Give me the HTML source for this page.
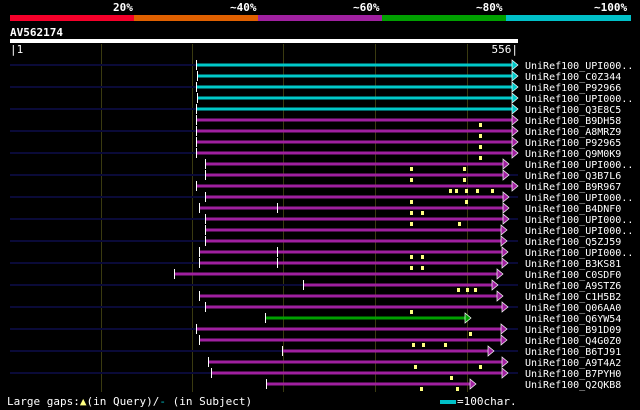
<!DOCTYPE html><html><head><style>body{margin:0;background:#000}svg{display:block}text{font-family:"DejaVu Sans Mono","Liberation Mono",monospace;fill:#fff}.n{fill:#0a0a38}.c{fill:#00c8c8}.m{fill:#a020a0}.g{fill:#00a000}.w{fill:#fff}.y{fill:#ffff80}polygon{stroke:#fff;stroke-width:0.7}</style></head><body>
<svg width="640" height="410" xmlns="http://www.w3.org/2000/svg">
<rect width="640" height="410" fill="#000"/>
<g font-size="11" font-weight="bold">
<text x="113" y="11">20%</text><text x="230" y="11">~40%</text><text x="353" y="11">~60%</text><text x="476" y="11">~80%</text><text x="594" y="11">~100%</text>
</g>
<rect x="10" y="15" width="124" height="6" fill="#f5002a"/>
<rect x="134" y="15" width="124" height="6" fill="#e06000"/>
<rect x="258" y="15" width="124" height="6" fill="#a020a0"/>
<rect x="382" y="15" width="124" height="6" fill="#00a000"/>
<rect x="506" y="15" width="125" height="6" fill="#00c0c8"/>
<text x="10" y="36" font-size="11" font-weight="bold">AV562174</text>
<rect x="10" y="39" width="508" height="4" fill="#fff"/>
<text x="10" y="53" font-size="11">|1</text>
<text x="518" y="53" font-size="11" text-anchor="end">556|</text>
<g stroke="#3a3a10" stroke-width="1">
<line x1="101.5" y1="44" x2="101.5" y2="392"/><line x1="192.5" y1="44" x2="192.5" y2="392"/><line x1="283.5" y1="44" x2="283.5" y2="392"/><line x1="375.5" y1="44" x2="375.5" y2="392"/><line x1="467.5" y1="44" x2="467.5" y2="392"/>
</g>
<g font-size="10">
<g transform="translate(0,65)"><rect class="n" x="10" y="-1" width="508" height="2"/><rect class="c" x="197" y="-1.5" width="315" height="3"/><rect class="w" x="196" y="-5" width="1" height="10"/><polygon class="c" points="512,-5 518,0 512,5"/><text x="525" y="4">UniRef100_UPI000..</text></g>
<g transform="translate(0,76)"><rect class="c" x="198" y="-1.5" width="314" height="3"/><rect class="w" x="197" y="-5" width="1" height="10"/><polygon class="c" points="512,-5 518,0 512,5"/><text x="525" y="4">UniRef100_C0Z344</text></g>
<g transform="translate(0,87)"><rect class="n" x="10" y="-1" width="508" height="2"/><rect class="c" x="197" y="-1.5" width="315" height="3"/><rect class="w" x="196" y="-5" width="1" height="10"/><polygon class="c" points="512,-5 518,0 512,5"/><text x="525" y="4">UniRef100_P92966</text></g>
<g transform="translate(0,98)"><rect class="c" x="198" y="-1.5" width="314" height="3"/><rect class="w" x="197" y="-5" width="1" height="10"/><polygon class="c" points="512,-5 518,0 512,5"/><text x="525" y="4">UniRef100_UPI000..</text></g>
<g transform="translate(0,109)"><rect class="n" x="10" y="-1" width="508" height="2"/><rect class="c" x="197" y="-1.5" width="315" height="3"/><rect class="w" x="196" y="-5" width="1" height="10"/><polygon class="c" points="512,-5 518,0 512,5"/><text x="525" y="4">UniRef100_Q3E8C5</text></g>
<g transform="translate(0,120)"><rect class="m" x="197" y="-1.5" width="315" height="3"/><rect class="w" x="196" y="-5" width="1" height="10"/><polygon class="m" points="512,-5 518,0 512,5"/><rect class="y" x="479" y="3" width="3" height="4"/><text x="525" y="4">UniRef100_B9DH58</text></g>
<g transform="translate(0,131)"><rect class="n" x="10" y="-1" width="508" height="2"/><rect class="m" x="197" y="-1.5" width="315" height="3"/><rect class="w" x="196" y="-5" width="1" height="10"/><polygon class="m" points="512,-5 518,0 512,5"/><rect class="y" x="479" y="3" width="3" height="4"/><text x="525" y="4">UniRef100_A8MRZ9</text></g>
<g transform="translate(0,142)"><rect class="m" x="197" y="-1.5" width="315" height="3"/><rect class="w" x="196" y="-5" width="1" height="10"/><polygon class="m" points="512,-5 518,0 512,5"/><rect class="y" x="479" y="3" width="3" height="4"/><text x="525" y="4">UniRef100_P92965</text></g>
<g transform="translate(0,153)"><rect class="n" x="10" y="-1" width="508" height="2"/><rect class="m" x="197" y="-1.5" width="315" height="3"/><rect class="w" x="196" y="-5" width="1" height="10"/><polygon class="m" points="512,-5 518,0 512,5"/><rect class="y" x="479" y="3" width="3" height="4"/><text x="525" y="4">UniRef100_Q9M0K9</text></g>
<g transform="translate(0,164)"><rect class="m" x="206" y="-1.5" width="297" height="3"/><rect class="w" x="205" y="-5" width="1" height="10"/><polygon class="m" points="503,-5 509,0 503,5"/><rect class="y" x="410" y="3" width="3" height="4"/><rect class="y" x="463" y="3" width="3" height="4"/><text x="525" y="4">UniRef100_UPI000..</text></g>
<g transform="translate(0,175)"><rect class="n" x="10" y="-1" width="508" height="2"/><rect class="m" x="206" y="-1.5" width="297" height="3"/><rect class="w" x="205" y="-5" width="1" height="10"/><polygon class="m" points="503,-5 509,0 503,5"/><rect class="y" x="410" y="3" width="3" height="4"/><rect class="y" x="463" y="3" width="3" height="4"/><text x="525" y="4">UniRef100_Q3B7L6</text></g>
<g transform="translate(0,186)"><rect class="m" x="197" y="-1.5" width="315" height="3"/><rect class="w" x="196" y="-5" width="1" height="10"/><polygon class="m" points="512,-5 518,0 512,5"/><rect class="y" x="449" y="3" width="3" height="4"/><rect class="y" x="455" y="3" width="3" height="4"/><rect class="y" x="465" y="3" width="3" height="4"/><rect class="y" x="476" y="3" width="3" height="4"/><rect class="y" x="491" y="3" width="3" height="4"/><text x="525" y="4">UniRef100_B9R967</text></g>
<g transform="translate(0,197)"><rect class="n" x="10" y="-1" width="508" height="2"/><rect class="m" x="206" y="-1.5" width="297" height="3"/><rect class="w" x="205" y="-5" width="1" height="10"/><polygon class="m" points="503,-5 509,0 503,5"/><rect class="y" x="410" y="3" width="3" height="4"/><rect class="y" x="465" y="3" width="3" height="4"/><text x="525" y="4">UniRef100_UPI000..</text></g>
<g transform="translate(0,208)"><rect class="m" x="200" y="-1.5" width="303" height="3"/><rect class="w" x="199" y="-5" width="1" height="10"/><rect class="w" x="277" y="-5" width="1" height="10"/><polygon class="m" points="503,-5 509,0 503,5"/><rect class="y" x="410" y="3" width="3" height="4"/><rect class="y" x="421" y="3" width="3" height="4"/><text x="525" y="4">UniRef100_B4DNF0</text></g>
<g transform="translate(0,219)"><rect class="n" x="10" y="-1" width="508" height="2"/><rect class="m" x="206" y="-1.5" width="297" height="3"/><rect class="w" x="205" y="-5" width="1" height="10"/><polygon class="m" points="503,-5 509,0 503,5"/><rect class="y" x="410" y="3" width="3" height="4"/><rect class="y" x="458" y="3" width="3" height="4"/><text x="525" y="4">UniRef100_UPI000..</text></g>
<g transform="translate(0,230)"><rect class="m" x="206" y="-1.5" width="295" height="3"/><rect class="w" x="205" y="-5" width="1" height="10"/><polygon class="m" points="501,-5 507,0 501,5"/><text x="525" y="4">UniRef100_UPI000..</text></g>
<g transform="translate(0,241)"><rect class="n" x="10" y="-1" width="508" height="2"/><rect class="m" x="206" y="-1.5" width="295" height="3"/><rect class="w" x="205" y="-5" width="1" height="10"/><polygon class="m" points="501,-5 507,0 501,5"/><text x="525" y="4">UniRef100_Q5ZJ59</text></g>
<g transform="translate(0,252)"><rect class="m" x="200" y="-1.5" width="302" height="3"/><rect class="w" x="199" y="-5" width="1" height="10"/><rect class="w" x="277" y="-5" width="1" height="10"/><polygon class="m" points="502,-5 508,0 502,5"/><rect class="y" x="410" y="3" width="3" height="4"/><rect class="y" x="421" y="3" width="3" height="4"/><text x="525" y="4">UniRef100_UPI000..</text></g>
<g transform="translate(0,263)"><rect class="n" x="10" y="-1" width="508" height="2"/><rect class="m" x="200" y="-1.5" width="302" height="3"/><rect class="w" x="199" y="-5" width="1" height="10"/><rect class="w" x="277" y="-5" width="1" height="10"/><polygon class="m" points="502,-5 508,0 502,5"/><rect class="y" x="410" y="3" width="3" height="4"/><rect class="y" x="421" y="3" width="3" height="4"/><text x="525" y="4">UniRef100_B3KS81</text></g>
<g transform="translate(0,274)"><rect class="m" x="175" y="-1.5" width="322" height="3"/><rect class="w" x="174" y="-5" width="1" height="10"/><polygon class="m" points="497,-5 503,0 497,5"/><text x="525" y="4">UniRef100_C0SDF0</text></g>
<g transform="translate(0,285)"><rect class="n" x="10" y="-1" width="508" height="2"/><rect class="m" x="304" y="-1.5" width="188" height="3"/><rect class="w" x="303" y="-5" width="1" height="10"/><polygon class="m" points="492,-5 498,0 492,5"/><rect class="y" x="457" y="3" width="3" height="4"/><rect class="y" x="466" y="3" width="3" height="4"/><rect class="y" x="474" y="3" width="3" height="4"/><text x="525" y="4">UniRef100_A9STZ6</text></g>
<g transform="translate(0,296)"><rect class="m" x="200" y="-1.5" width="297" height="3"/><rect class="w" x="199" y="-5" width="1" height="10"/><polygon class="m" points="497,-5 503,0 497,5"/><text x="525" y="4">UniRef100_C1H5B2</text></g>
<g transform="translate(0,307)"><rect class="n" x="10" y="-1" width="508" height="2"/><rect class="m" x="206" y="-1.5" width="296" height="3"/><rect class="w" x="205" y="-5" width="1" height="10"/><polygon class="m" points="502,-5 508,0 502,5"/><rect class="y" x="410" y="3" width="3" height="4"/><text x="525" y="4">UniRef100_Q06AA0</text></g>
<g transform="translate(0,318)"><rect class="g" x="266" y="-1.5" width="199" height="3"/><rect class="w" x="265" y="-5" width="1" height="10"/><polygon class="g" points="465,-5 471,0 465,5"/><text x="525" y="4">UniRef100_Q6YW54</text></g>
<g transform="translate(0,329)"><rect class="n" x="10" y="-1" width="508" height="2"/><rect class="m" x="197" y="-1.5" width="304" height="3"/><rect class="w" x="196" y="-5" width="1" height="10"/><polygon class="m" points="501,-5 507,0 501,5"/><rect class="y" x="469" y="3" width="3" height="4"/><text x="525" y="4">UniRef100_B91D09</text></g>
<g transform="translate(0,340)"><rect class="m" x="200" y="-1.5" width="301" height="3"/><rect class="w" x="199" y="-5" width="1" height="10"/><polygon class="m" points="501,-5 507,0 501,5"/><rect class="y" x="412" y="3" width="3" height="4"/><rect class="y" x="422" y="3" width="3" height="4"/><rect class="y" x="444" y="3" width="3" height="4"/><text x="525" y="4">UniRef100_Q4G0Z0</text></g>
<g transform="translate(0,351)"><rect class="n" x="10" y="-1" width="508" height="2"/><rect class="m" x="283" y="-1.5" width="205" height="3"/><rect class="w" x="282" y="-5" width="1" height="10"/><polygon class="m" points="488,-5 494,0 488,5"/><text x="525" y="4">UniRef100_B6TJ91</text></g>
<g transform="translate(0,362)"><rect class="m" x="209" y="-1.5" width="293" height="3"/><rect class="w" x="208" y="-5" width="1" height="10"/><polygon class="m" points="502,-5 508,0 502,5"/><rect class="y" x="414" y="3" width="3" height="4"/><rect class="y" x="479" y="3" width="3" height="4"/><text x="525" y="4">UniRef100_A9T4A2</text></g>
<g transform="translate(0,373)"><rect class="n" x="10" y="-1" width="508" height="2"/><rect class="m" x="212" y="-1.5" width="290" height="3"/><rect class="w" x="211" y="-5" width="1" height="10"/><polygon class="m" points="502,-5 508,0 502,5"/><rect class="y" x="450" y="3" width="3" height="4"/><text x="525" y="4">UniRef100_B7PYH0</text></g>
<g transform="translate(0,384)"><rect class="m" x="267" y="-1.5" width="203" height="3"/><rect class="w" x="266" y="-5" width="1" height="10"/><polygon class="m" points="470,-5 476,0 470,5"/><rect class="y" x="420" y="3" width="3" height="4"/><rect class="y" x="456" y="3" width="3" height="4"/><text x="525" y="4">UniRef100_Q2QKB8</text></g>
</g>
<text x="7" y="405" font-size="11">Large gaps:<tspan fill="#ffff80">▲</tspan>(in Query)/<tspan fill="#00c0c8">-</tspan> (in Subject)</text>
<rect x="440" y="400" width="16" height="4" fill="#00c0c8"/>
<text x="457" y="405" font-size="11">=100char.</text>
</svg></body></html>
